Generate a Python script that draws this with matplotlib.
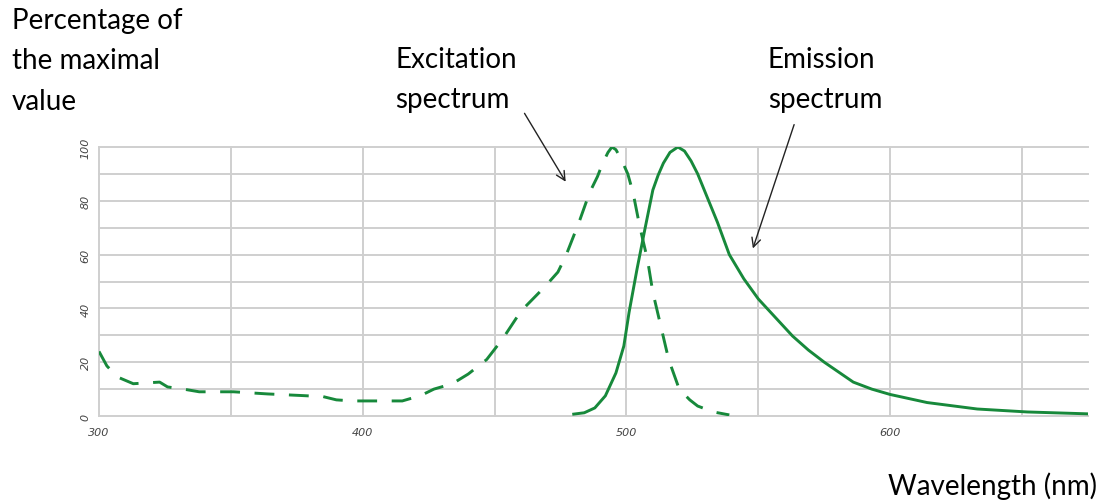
"""Excitation and emission spectra, normalised to the peak value."""

import matplotlib
matplotlib.use("Agg")
import matplotlib.pyplot as plt

# excitation spectrum (dashed), wavelength in nm -> % of maximum
EX_NM = [300, 303, 307, 313, 323, 326, 332, 338, 351, 364, 377, 385, 390, 396,
         408, 415, 422, 427, 434, 440, 447, 453, 460, 469, 474, 477, 482, 486,
         489, 491, 493, 494.5, 496, 498, 500.5, 502.5, 505, 508, 510, 513, 516,
         520, 524, 527, 533, 539]
EX_VAL = [24, 18.6, 14.5, 12, 12.6, 10.8, 10, 9, 9, 8.2, 7.6, 7.2, 6, 5.6,
          5.6, 5.6, 7.6, 10, 12, 15.6, 21, 28.6, 39, 48, 53.5, 59.5, 72, 83,
          89, 94, 98, 100, 99, 95.5, 90, 83, 70.6, 58, 46, 33.5, 21,
          10, 6, 3.7, 1.5, 0.4]

# emission spectrum (solid)
EM_NM = [480, 484, 488, 492, 496, 499, 501, 504, 507, 510, 512, 514, 516.5,
         519.5, 522, 524.5, 527, 529.5, 534.5, 539, 544.5, 550, 558, 563, 569,
         575, 586, 593, 600, 614, 633, 652, 675]
EM_VAL = [0.7, 1.2, 3, 7.5, 16, 26, 38.6, 54.6, 69.5, 84, 89.5, 94, 98,
          100, 98.5, 94.8, 90, 84, 72, 60, 51, 43.5, 35, 29.7, 24.5,
          20, 12.6, 10, 8, 5, 2.6, 1.5, 0.8]

X_TICKS = [300, 400, 500, 600]
Y_TICKS = [0, 20, 40, 60, 80, 100]

GREEN = "#17893b"
GRID = "#cfcfcf"
FONT = "Lato"

W, H = 1102, 502
fig = plt.figure(figsize=(W / 100, H / 100), dpi=100)
ax = fig.add_axes([99 / W, 1 - 417 / H, (1088 - 99) / W, (417 - 148) / H])

ax.plot(EM_NM, EM_VAL, color=GREEN, lw=2.1, solid_joinstyle="round")
ex_line, = ax.plot(EX_NM, EX_VAL, color=GREEN, lw=2.1, dash_capstyle="butt")
ex_line.set_dashes((6.8, 5))

ax.set_xlim(300, 675)
ax.set_ylim(0, 100)

# light grid: every 50 nm and every 10 %
for x in range(300, 676, 50):
    ax.axvline(x, color=GRID, lw=1.4, zorder=0, clip_on=False)
for y in range(0, 101, 10):
    ax.axhline(y, color=GRID, lw=1.4, zorder=0, clip_on=False)
for s in ax.spines.values():
    s.set_visible(False)

ax.set_xticks(X_TICKS)
ax.set_yticks(Y_TICKS)
ax.tick_params(length=0, labelsize=8, labelcolor="#444444")
ax.tick_params(axis="x", pad=8)
ax.tick_params(axis="y", pad=6)
for lbl in ax.get_xticklabels():
    lbl.set_fontstyle("italic")
for lbl in ax.get_yticklabels():
    lbl.set_fontstyle("italic")
    lbl.set_rotation(90)
    lbl.set_va("center")

txt = dict(fontsize=20, family=FONT, color="black", linespacing=1.68)
fig.text(12 / W, 1 - 8 / H, "Percentage of\nthe maximal\nvalue", va="top", ha="left", **txt)
fig.text(395 / W, 1 - 47 / H, "Excitation\nspectrum", va="top", ha="left", **txt)
fig.text(768 / W, 1 - 47 / H, "Emission\nspectrum", va="top", ha="left", **txt)
fig.text(1097 / W, 1 - 495 / H, "Wavelength (nm)", va="baseline", ha="right", **txt)

arrow = dict(arrowstyle="->", color="#222222", lw=1.0, mutation_scale=16)
ax.annotate("", xy=(477.5, 86.2), xytext=(460.8, 113.4), arrowprops=arrow,
            annotation_clip=False)
ax.annotate("", xy=(547.6, 61.3), xytext=(563.9, 109.3), arrowprops=arrow,
            annotation_clip=False)

fig.savefig("out.png", dpi=100)
